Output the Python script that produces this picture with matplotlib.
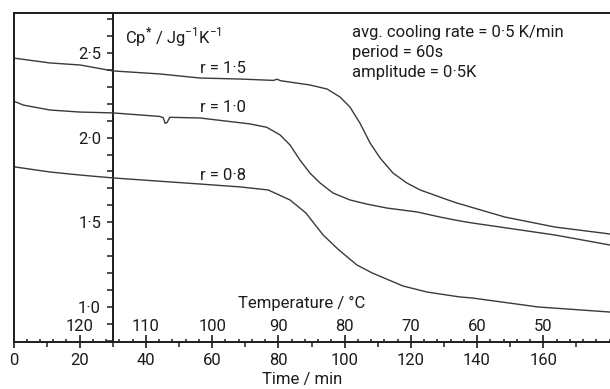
import matplotlib
matplotlib.use("Agg")
import matplotlib.pyplot as plt
from matplotlib.ticker import FixedLocator, MultipleLocator
import numpy as np

plt.rcParams['font.family'] = ['Roboto', 'DejaVu Sans']
plt.rcParams['mathtext.fontset'] = 'custom'
plt.rcParams['mathtext.rm'] = 'Roboto'
plt.rcParams['mathtext.bf'] = 'Roboto:bold'

# curves: time (min) vs Cp* (J/gK)
time_r15 = [0, 11.0, 20.1, 30.0, 44.2, 56.3, 68.4, 78.5, 79.6, 80.7, 89.5, 94.7,
            98.6, 101.6, 104.6, 107.7, 110.7, 114.6, 118.8, 122.8, 131.2, 133.9,
            148.4, 163.5, 180.1]
cp_r15 = [2.470, 2.441, 2.429, 2.394, 2.376, 2.352, 2.346, 2.338, 2.345, 2.336,
          2.311, 2.287, 2.240, 2.181, 2.087, 1.968, 1.880, 1.791, 1.732, 1.691,
          1.632, 1.614, 1.531, 1.472, 1.431]

time_r10 = [0, 3.0, 11.0, 20.1, 30.0, 44.2, 45.2, 45.8, 46.4, 47.2, 56.3, 71.4,
            76.5, 80.5, 83.5, 86.5, 89.5, 92.6, 96.5, 101.6, 106.6, 112.8,
            121.9, 128.8, 134.8, 138.5, 163.5, 180.1]
cp_r10 = [2.216, 2.192, 2.163, 2.151, 2.146, 2.125, 2.118, 2.084, 2.090, 2.120,
          2.116, 2.081, 2.061, 2.016, 1.957, 1.868, 1.791, 1.732, 1.673, 1.632,
          1.608, 1.584, 1.561, 1.531, 1.508, 1.496, 1.425, 1.366]

time_r08 = [0, 0.4, 11.0, 20.1, 30.0, 56.3, 68.4, 76.9, 83.5, 88.3, 93.5, 98.3,
            103.7, 108.3, 117.6, 124.9, 134.8, 138.5, 158.4, 180.1]
cp_r08 = [1.845, 1.827, 1.797, 1.779, 1.762, 1.726, 1.709, 1.691, 1.632, 1.555,
          1.425, 1.336, 1.248, 1.201, 1.124, 1.088, 1.059, 1.053, 1.000, 0.970]

curve_labels = ['r = 1·5', 'r = 1·0', 'r = 0·8']

time_major = [0, 20, 40, 60, 80, 100, 120, 140, 160]
time_minor = [10, 30, 50, 70, 90, 110, 130, 150, 170]
temp_major = [120, 110, 100, 90, 80, 70, 60, 50]
cp_major = [1.0, 1.5, 2.0, 2.5]
cp_major_labels = ['1·0', '1·5', '2·0', '2·5']

info_lines = ['avg. cooling rate = 0·5 K/min', 'period = 60s', 'amplitude = 0·5K']

ink = '#1c1c1c'
curve_color = '#3a3a3a'
fs = 12

xmax = 180.15
fig = plt.figure(figsize=(6.1, 3.89), dpi=100)
ax = fig.add_axes([13.5 / 610, 47 / 389, 596.5 / 610, 329 / 389])
ax.set_xlim(0, xmax)
ax.set_ylim(0.793, 2.736)

for t, c in [(time_r15, cp_r15), (time_r10, cp_r10), (time_r08, cp_r08)]:
    ax.plot(t, c, color=curve_color, lw=1.0, solid_joinstyle='round')

ax.spines['right'].set_visible(False)
for s in ['left', 'top', 'bottom']:
    ax.spines[s].set_linewidth(1.4)
    ax.spines[s].set_color(ink)

# time axis (ticks pointing down)
ax.yaxis.set_major_locator(FixedLocator([]))
ax.yaxis.set_minor_locator(FixedLocator([]))
ax.xaxis.set_major_locator(FixedLocator(time_major))
ax.xaxis.set_minor_locator(FixedLocator(time_minor))
ax.set_xticklabels([str(v) for v in time_major])
ax.tick_params(axis='x', which='major', direction='out', length=4, width=1.2,
               color=ink, labelsize=fs, labelcolor=ink, pad=4)
ax.tick_params(axis='x', which='minor', direction='out', length=3.5, width=1.1, color=ink)
ax.set_xlabel('Time / min', fontsize=fs, color=ink, va='center')
ax.xaxis.set_label_coords((302 - 13.5) / 596.5, -37.5 / 329)

# temperature axis on the same line (ticks pointing up)
temp = ax.secondary_xaxis(0.0, functions=(lambda t: 130 - 0.5 * np.asarray(t),
                                          lambda T: 2 * (130 - np.asarray(T))))
temp.xaxis.set_major_locator(FixedLocator(temp_major))
temp.xaxis.set_minor_locator(MultipleLocator(2))
temp.set_xticklabels([str(v) for v in temp_major])
temp.tick_params(axis='x', which='both', bottom=False, top=True,
                 labelbottom=False, labeltop=True, direction='out', color=ink)
temp.tick_params(axis='x', which='major', length=5, width=1.2, labelsize=fs,
                 labelcolor=ink, pad=0.5)
temp.tick_params(axis='x', which='minor', length=2.5, width=1.1)
for s in temp.spines.values():
    s.set_visible(False)
ax.text(67.8, 1.023, 'Temperature / °C', fontsize=fs, color=ink, va='center', ha='left')

# Cp axis drawn at t = 30 min
cpax = ax.secondary_yaxis(30 / xmax)
cpax.yaxis.set_major_locator(FixedLocator(cp_major))
cpax.yaxis.set_minor_locator(MultipleLocator(0.1))
cpax.set_yticklabels(cp_major_labels)
cpax.spines['left'].set_linewidth(1.4)
cpax.spines['left'].set_color(ink)
cpax.tick_params(axis='y', which='both', direction='out', length=4, width=1.1,
                 color=ink, labelsize=fs, labelcolor=ink, pad=4.5)

ax.text(33.7, 2.594, r'Cp$^{\mathbf{*}}$ / Jg$^{-1}$K$^{-1}$', fontsize=fs,
        color=ink, va='center', ha='left')

label_pos = [(56.3, 2.411), (56.3, 2.175), (56.3, 1.779)]
for (lx, ly), txt in zip(label_pos, curve_labels):
    ax.text(lx, ly, txt, fontsize=fs, color=ink, va='center', ha='left')

for i, line in enumerate(info_lines):
    ax.text(102.2, 2.618 - i * 0.118, line, fontsize=fs, color=ink,
            va='center', ha='left')

fig.savefig('out.png', dpi=100)
